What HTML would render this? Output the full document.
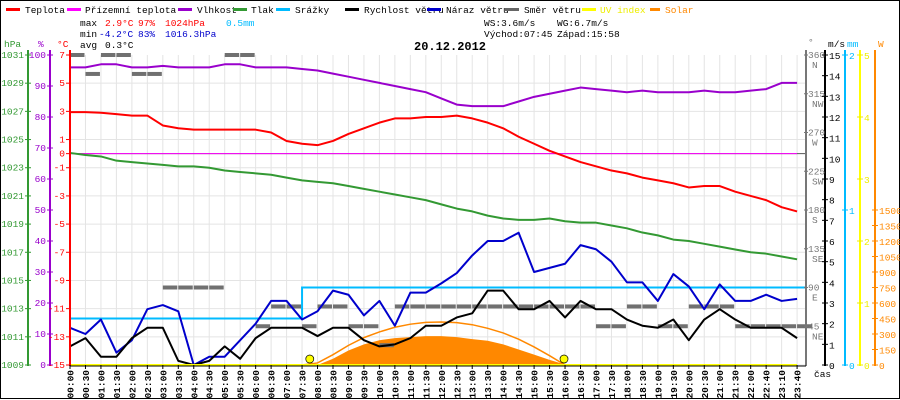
<!DOCTYPE html>
<html><head><meta charset="utf-8">
<style>
html,body{margin:0;padding:0;background:#fff;}
svg{display:block;font-family:"Liberation Mono",monospace;font-size:9.5px;}
</style></head>
<body>
<svg id="chart" width="900" height="400" viewBox="0 0 900 400" xmlns="http://www.w3.org/2000/svg">
<rect x="0.5" y="0.5" width="899" height="398" fill="#fff" stroke="#000"/>
<g id="grid"></g>
<g id="series"></g>
<g id="axes"></g>
<g font-size="9.5">
 <g><rect x="6" y="8" width="14" height="3" fill="#f00"/><text x="25" y="13">Teplota</text></g>
 <g><rect x="67" y="8" width="14" height="3" fill="#f0f"/><text x="85" y="13">Přízemní teplota</text></g>
 <g><rect x="178" y="8" width="14" height="3" fill="#90c"/><text x="197" y="13">Vlhkost</text></g>
 <g><rect x="233" y="8" width="14" height="3" fill="#393"/><text x="251" y="13">Tlak</text></g>
 <g><rect x="276" y="8" width="14" height="3" fill="#0bf"/><text x="295" y="13">Srážky</text></g>
 <g><rect x="345" y="8" width="14" height="3" fill="#000"/><text x="364" y="13">Rychlost větru</text></g>
 <g><rect x="427" y="8" width="14" height="3" fill="#00c"/><text x="446" y="13">Náraz větru</text></g>
 <g><rect x="505" y="8" width="14" height="3" fill="#666"/><text x="524" y="13">Směr větru</text></g>
 <g><rect x="582" y="8" width="14" height="3" fill="#ff0"/><text x="600" y="13" fill="#ee0">UV index</text></g>
 <g><rect x="650" y="8" width="10" height="3" fill="#f80"/><text x="665" y="13" fill="#f80">Solar</text></g>
</g>
<g font-size="9.5">
 <text x="80" y="26">max</text><text x="105" y="26" fill="#f00">2.9°C</text><text x="138" y="26" fill="#f00">97%</text><text x="165" y="26" fill="#f00">1024hPa</text><text x="226" y="26" fill="#0bf">0.5mm</text>
 <text x="80" y="37">min</text><text x="99" y="37" fill="#00c">-4.2°C</text><text x="138" y="37" fill="#00c">83%</text><text x="165" y="37" fill="#00c">1016.3hPa</text>
 <text x="80" y="48">avg</text><text x="105" y="48">0.3°C</text>
 <text x="414" y="50" font-size="12" font-weight="bold">20.12.2012</text>
 <text x="484" y="26">WS:3.6m/s</text><text x="557" y="26">WG:6.7m/s</text>
 <text x="484" y="37">Východ:07:45</text><text x="557" y="37">Západ:15:58</text>
</g>
</svg>
<script>
const timeLabels=["00:00","00:30","01:00","01:30","02:00","02:30","03:00","03:30","04:00","04:30","05:00","05:30","06:00","06:30","07:00","07:30","08:00","08:30","09:00","09:30","10:00","10:30","11:00","11:30","12:00","12:30","13:00","13:30","14:00","14:30","15:00","15:30","16:00","16:30","17:00","17:30","18:00","18:30","19:00","19:30","20:00","20:30","21:00","21:30","22:00","22:40","23:10","23:40"];
const temperature=[2.95,2.95,2.9,2.8,2.7,2.7,2.0,1.8,1.7,1.7,1.7,1.7,1.7,1.5,0.9,0.7,0.6,0.9,1.4,1.8,2.2,2.5,2.5,2.6,2.6,2.7,2.5,2.2,1.8,1.2,0.7,0.2,-0.2,-0.6,-0.9,-1.2,-1.4,-1.7,-1.9,-2.1,-2.4,-2.3,-2.3,-2.7,-3.0,-3.3,-3.8,-4.1];
const apparentTemp=[0,0,0,0,0,0,0,0,0,0,0,0,0,0,0,0,0,0,0,0,0,0,0,0,0,0,0,0,0,0,0,0,0,0,0,0,0,0,0,0,0,0,0,0,0,0,0,0];
const humidity=[96,96,97,97,96,96,96.5,96,96,96,97,97,96,96,96,95.5,95,94,93,92,91,90,89,88,86,84,83.5,83.5,83.5,85,86.5,87.5,88.5,89.5,89,88.5,88,88.5,88,88,88,88.5,88,88,88.5,89,91,91];
const pressure=[1024.05,1023.9,1023.8,1023.5,1023.4,1023.3,1023.2,1023.1,1023.1,1023.0,1022.8,1022.7,1022.6,1022.5,1022.3,1022.1,1022.0,1021.9,1021.7,1021.5,1021.3,1021.1,1020.9,1020.7,1020.4,1020.1,1019.9,1019.6,1019.4,1019.3,1019.3,1019.4,1019.2,1019.1,1019.1,1018.9,1018.7,1018.4,1018.2,1017.9,1017.8,1017.6,1017.4,1017.2,1017.0,1016.9,1016.7,1016.5];
const rain=[0.3,0.3,0.3,0.3,0.3,0.3,0.3,0.3,0.3,0.3,0.3,0.3,0.3,0.3,0.3,0.5,0.5,0.5,0.5,0.5,0.5,0.5,0.5,0.5,0.5,0.5,0.5,0.5,0.5,0.5,0.5,0.5,0.5,0.5,0.5,0.5,0.5,0.5,0.5,0.5,0.5,0.5,0.5,0.5,0.5,0.5,0.5,0.5];
const windSpeed=[0.9,1.3,0.4,0.4,1.3,1.8,1.8,0.2,0,0.2,0.9,0.3,1.3,1.8,1.8,1.8,1.4,1.8,1.8,1.2,0.9,1.0,1.3,1.9,1.9,2.3,2.5,3.6,3.6,2.7,2.7,3.1,2.3,3.1,2.7,2.7,2.2,1.9,1.8,2.2,1.2,2.2,2.7,2.2,1.8,1.8,1.8,1.3];
const windGust=[1.8,1.5,2.2,0.6,1.2,2.7,2.9,2.6,0,0.4,0.4,1.2,2.0,3.1,3.1,2.2,2.6,3.6,3.4,2.4,3.1,1.9,3.5,3.5,3.95,4.45,5.3,6.0,6.0,6.4,4.5,4.7,4.9,5.8,5.6,5.0,4.0,4.0,3.1,4.4,3.8,2.7,3.9,3.1,3.1,3.4,3.1,3.2];
const windDir=[360,338,360,360,338,338,90,90,90,90,360,360,45,68,68,45,68,68,45,45,23,68,68,68,68,68,68,68,68,68,68,68,68,68,45,45,68,68,45,45,68,68,68,45,45,45,45,45];
const solar=[0,0,0,0,0,0,0,0,0,0,0,0,0,0,0,0,0,60,140,200,240,260,270,280,280,270,250,235,200,150,100,50,5,0,0,0,0,0,0,0,0,0,0,0,0,0,0,0];
const solarMax=[0,0,0,0,0,0,0,0,0,0,0,0,0,0,0,0,20,100,190,265,320,365,395,412,416,410,390,355,310,250,175,90,0,0,0,0,0,0,0,0,0,0,0,0,0,0,0,0];
const uvIndex=[0,0,0,0,0,0,0,0,0,0,0,0,0,0,0,0,0,0,0,0,0,0,0,0,0,0,0,0,0,0,0,0,0,0,0,0,0,0,0,0,0,0,0,0,0,0,0,0];
const sunEvents=[7.75,15.967];

const NS="http://www.w3.org/2000/svg";
const X0=70,DX=15.47,YT=55,YB=365,H=YB-YT;
const xI=i=>X0+i*DX;
const xH=h=>X0+h*2*DX;
const yT=v=>YB-(v+15)/22*H;
const yH=v=>YB-v/100*H;
const yP=v=>YB-(v-1009)/22*H;
const yV=v=>YB-v/15*H;
const yR=v=>YB-v/2*H;
const yD=v=>YB-v/360*H;
const yW=v=>YB-v/3000*H;
const yU=v=>YB-v/5*H;
function el(tag,attrs,parent){const e=document.createElementNS(NS,tag);for(const k in attrs)e.setAttribute(k,attrs[k]);parent.appendChild(e);return e;}
const grid=document.getElementById('grid'),series=document.getElementById('series'),axes=document.getElementById('axes');

for(let i=1;i<timeLabels.length;i++){const l=el('line',{x1:xI(i),x2:xI(i),y1:YT,y2:YB,stroke:'#e4e4e4'},grid);

}
for(let t=5;t>=-15;t-=2){const l=el('line',{x1:X0,x2:806,y1:yT(t),y2:yT(t),stroke:'#e4e4e4'},grid);

}
const zl=el('line',{x1:X0,x2:806,y1:yT(0),y2:yT(0),stroke:'#555'},grid);



function poly(arr,yf,color,w,name){const p=el('polyline',{points:arr.map((v,i)=>xI(i)+','+yf(v)).join(' '),fill:'none',stroke:color,'stroke-width':w,'stroke-linejoin':'round'},series);

return p;}
function steps(arr,yf,color,w,name){let pts=[];arr.forEach((v,i)=>{pts.push(xI(i)+','+yf(v));pts.push(Math.min(xI(i+1),806)+','+yf(v));});
const p=el('polyline',{points:pts.join(' '),fill:'none',stroke:color,'stroke-width':w},series);

}

{let d='M'+xI(0)+','+YB;solar.forEach((v,i)=>{d+=' L'+xI(i)+','+yW(v);});d+=' L'+xI(solar.length-1)+','+YB+' Z';
const a=el('path',{d:d,fill:'#f80'},series);

}
{const pts=[];solarMax.forEach((v,i)=>{if(v>0||(solarMax[i-1]>0)||(solarMax[i+1]>0))pts.push(xI(i)+','+yW(v));});
const p=el('polyline',{points:pts.join(' '),fill:'none',stroke:'#f80','stroke-width':1.5},series);

}
windDir.forEach((v,i)=>{const r=el('rect',{x:xI(i),y:yD(v)-2,width:DX-1,height:4,fill:'#707070'},series);

});
steps(rain,yR,'#0bf',2,'rain-line');
poly(apparentTemp,yT,'#f0f',1,'apparent-temperature-line');
poly(pressure,yP,'#393',2,'pressure-line');
poly(humidity,yH,'#90c',2,'humidity-line');
poly(temperature,yT,'#f00',2,'temperature-line');
poly(windGust,yV,'#00c',2,'wind-gust-line');
poly(windSpeed,yV,'#000',2,'wind-speed-line');
poly(uvIndex,yU,'#ff0',2,'uv-index-line');
sunEvents.forEach(h=>{const c=el('circle',{cx:xH(h),cy:359,r:4,fill:'#ff0',stroke:'#000','stroke-width':0.7},series);

});

function vaxis(x,color,name){const l=el('line',{x1:x,x2:x,y1:50,y2:YB+1,stroke:color,'stroke-width':2},axes);

}
function txt(x,y,s,color,anchor,name){const t=el('text',{x:x,y:y,fill:color,'text-anchor':anchor||'start'},axes);t.textContent=s;

return t;}
function tick(x1,x2,y,color){el('line',{x1:x1,x2:x2,y1:y,y2:y,stroke:color},axes);}
vaxis(28,'#393','pressure-axis');vaxis(50,'#90c','humidity-axis');vaxis(70,'#f00','temperature-axis');
txt(4,47,'hPa','#393','start','pressure-axis-title');txt(38,47,'%','#90c','start','humidity-axis-title');txt(57,47,'°C','#f00','start','temperature-axis-title');
for(let p=1031;p>=1009;p-=2){tick(25,31,yP(p),'#393');txt(24,yP(p)+3,String(p),'#393','end','pressure-tick-label');}
for(let h=100;h>=0;h-=10){tick(47,53,yH(h),'#90c');txt(46,yH(h)+3,String(h),'#90c','end','humidity-tick-label');}
for(let t=7;t>=-15;t-=2){tick(66,70,yT(t),'#f00');txt(65,yT(t)+3,String(t),'#f00','end','temperature-tick-label');}
tick(66,70,yT(0),'#f00');txt(65,yT(0)+3,'0','#f00','end','temperature-tick-label');
vaxis(806,'#777','direction-axis');vaxis(825,'#000','wind-speed-axis');vaxis(845,'#0bf','rain-axis');vaxis(860,'#ff0','uv-axis');vaxis(875,'#f80','solar-axis');
txt(808,45,'°','#777','start','direction-axis-title');txt(828,47,'m/s','#000','start','wind-speed-axis-title');txt(847,47,'mm','#0bf','start','rain-axis-title');txt(878,47,'W','#f80','start','solar-axis-title');
const dirNames=['','NE','E','SE','S','SW','W','NW','N'];
for(let k=1;k<=8;k++){const d=k*45;tick(804,808,yD(d),'#777');txt(808,yD(d)+3,String(d),'#777','start','direction-tick-label');txt(812,yD(d)+13,dirNames[k],'#777','start','direction-name-label');}
for(let v=0;v<=15;v++){tick(822,828,yV(v),'#000');txt(829,yV(v)+4,String(v),'#000','start','wind-speed-tick-label');}
for(let v=0;v<=2;v++){tick(842,848,yR(v),'#0bf');txt(849,yR(v)+4,String(v),'#0bf','start','rain-tick-label');}
for(let v=0;v<=5;v++){tick(857,863,yU(v),'#ee0');txt(864,yU(v)+4,String(v),'#ee0','start','uv-tick-label');}
for(let v=0;v<=1500;v+=150){tick(872,878,yW(v),'#f80');txt(879,yW(v)+4,String(v),'#f80','start','solar-tick-label');}
{const l=el('line',{x1:X0,x2:806,y1:YB+1,y2:YB+1,stroke:'#000'},axes);

}
timeLabels.forEach((s,i)=>{el('line',{x1:xI(i),x2:xI(i),y1:YB,y2:YB+4,stroke:'#000'},axes);
const t=el('text',{x:0,y:0,fill:'#000','text-anchor':'end','font-weight':'bold',transform:'translate('+(xI(i)+3.5)+',370) rotate(-90)'},axes);t.textContent=s;

});
txt(814,377,'čas','#000','start','x-axis-title');
</script>
</body></html>
